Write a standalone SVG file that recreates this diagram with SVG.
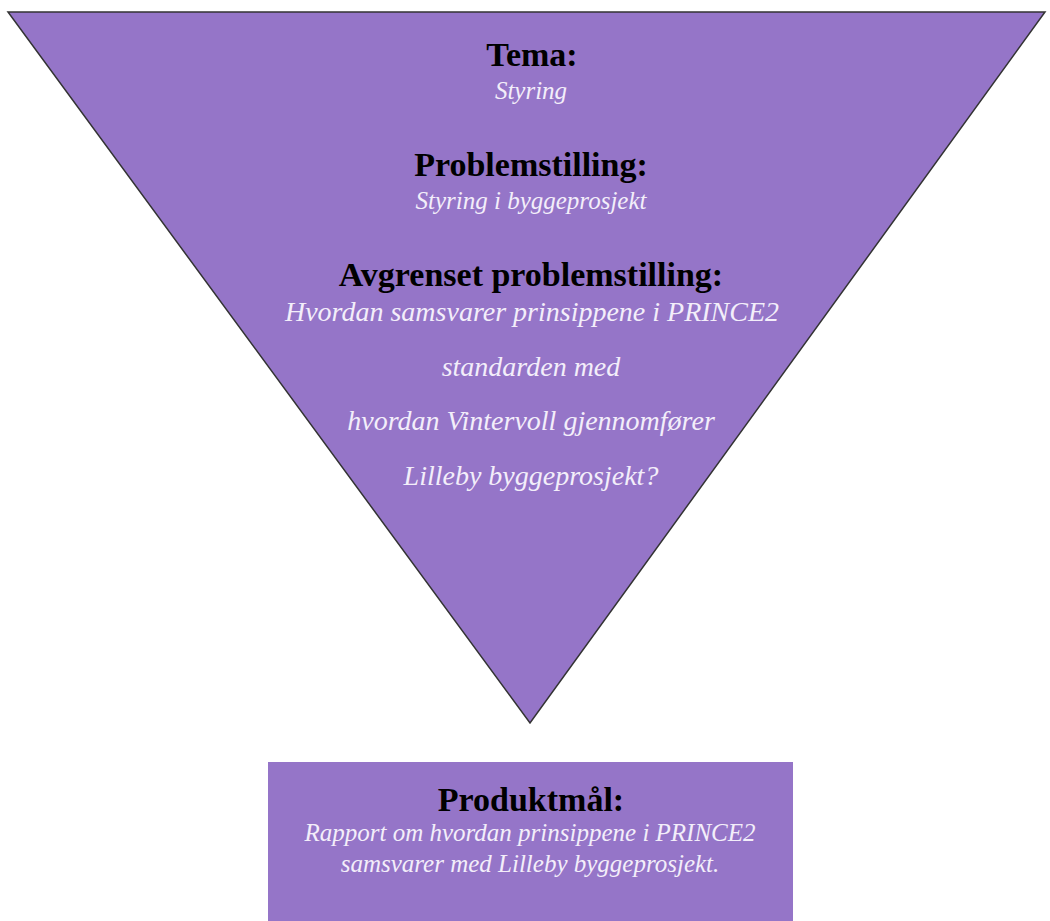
<svg xmlns="http://www.w3.org/2000/svg" width="1050" height="921" viewBox="0 0 1050 921">
<style>
.shape{fill:#9575c8}
.h{font-family:"Liberation Serif",serif;font-weight:bold;font-size:34px;fill:#000;text-anchor:middle}
.t{font-family:"Liberation Serif",serif;font-style:italic;font-size:25px;fill:#f3eefa;text-anchor:middle}
.tl{font-size:28px}
</style>
<rect width="1050" height="921" fill="#fff"/>
<g id="triangle">
<polygon class="shape" points="8,12 1045,12 530,723" stroke="#333" stroke-width="1.5" stroke-linejoin="miter"/>
<text class="h" x="532" y="66">Tema:</text>
<text class="t" x="531" y="99">Styring</text>
<text class="h" x="531" y="176">Problemstilling:</text>
<text class="t" x="531" y="209">Styring i byggeprosjekt</text>
<text class="h" x="531" y="286">Avgrenset problemstilling:</text>
<text class="t tl" x="532" y="321">Hvordan samsvarer prinsippene i PRINCE2</text>
<text class="t tl" x="531" y="376">standarden med</text>
<text class="t tl" x="531" y="430">hvordan Vintervoll gjennomfører</text>
<text class="t tl" x="531" y="485">Lilleby byggeprosjekt?</text>
</g>
<g id="produktmal">
<rect class="shape" x="268" y="762" width="525" height="159"/>
<text class="h" x="531" y="811">Produktmål:</text>
<text class="t" x="530" y="841">Rapport om hvordan prinsippene i PRINCE2</text>
<text class="t" x="530" y="872">samsvarer med Lilleby byggeprosjekt.</text>
</g>
<g id="connectors"/>
</svg>
